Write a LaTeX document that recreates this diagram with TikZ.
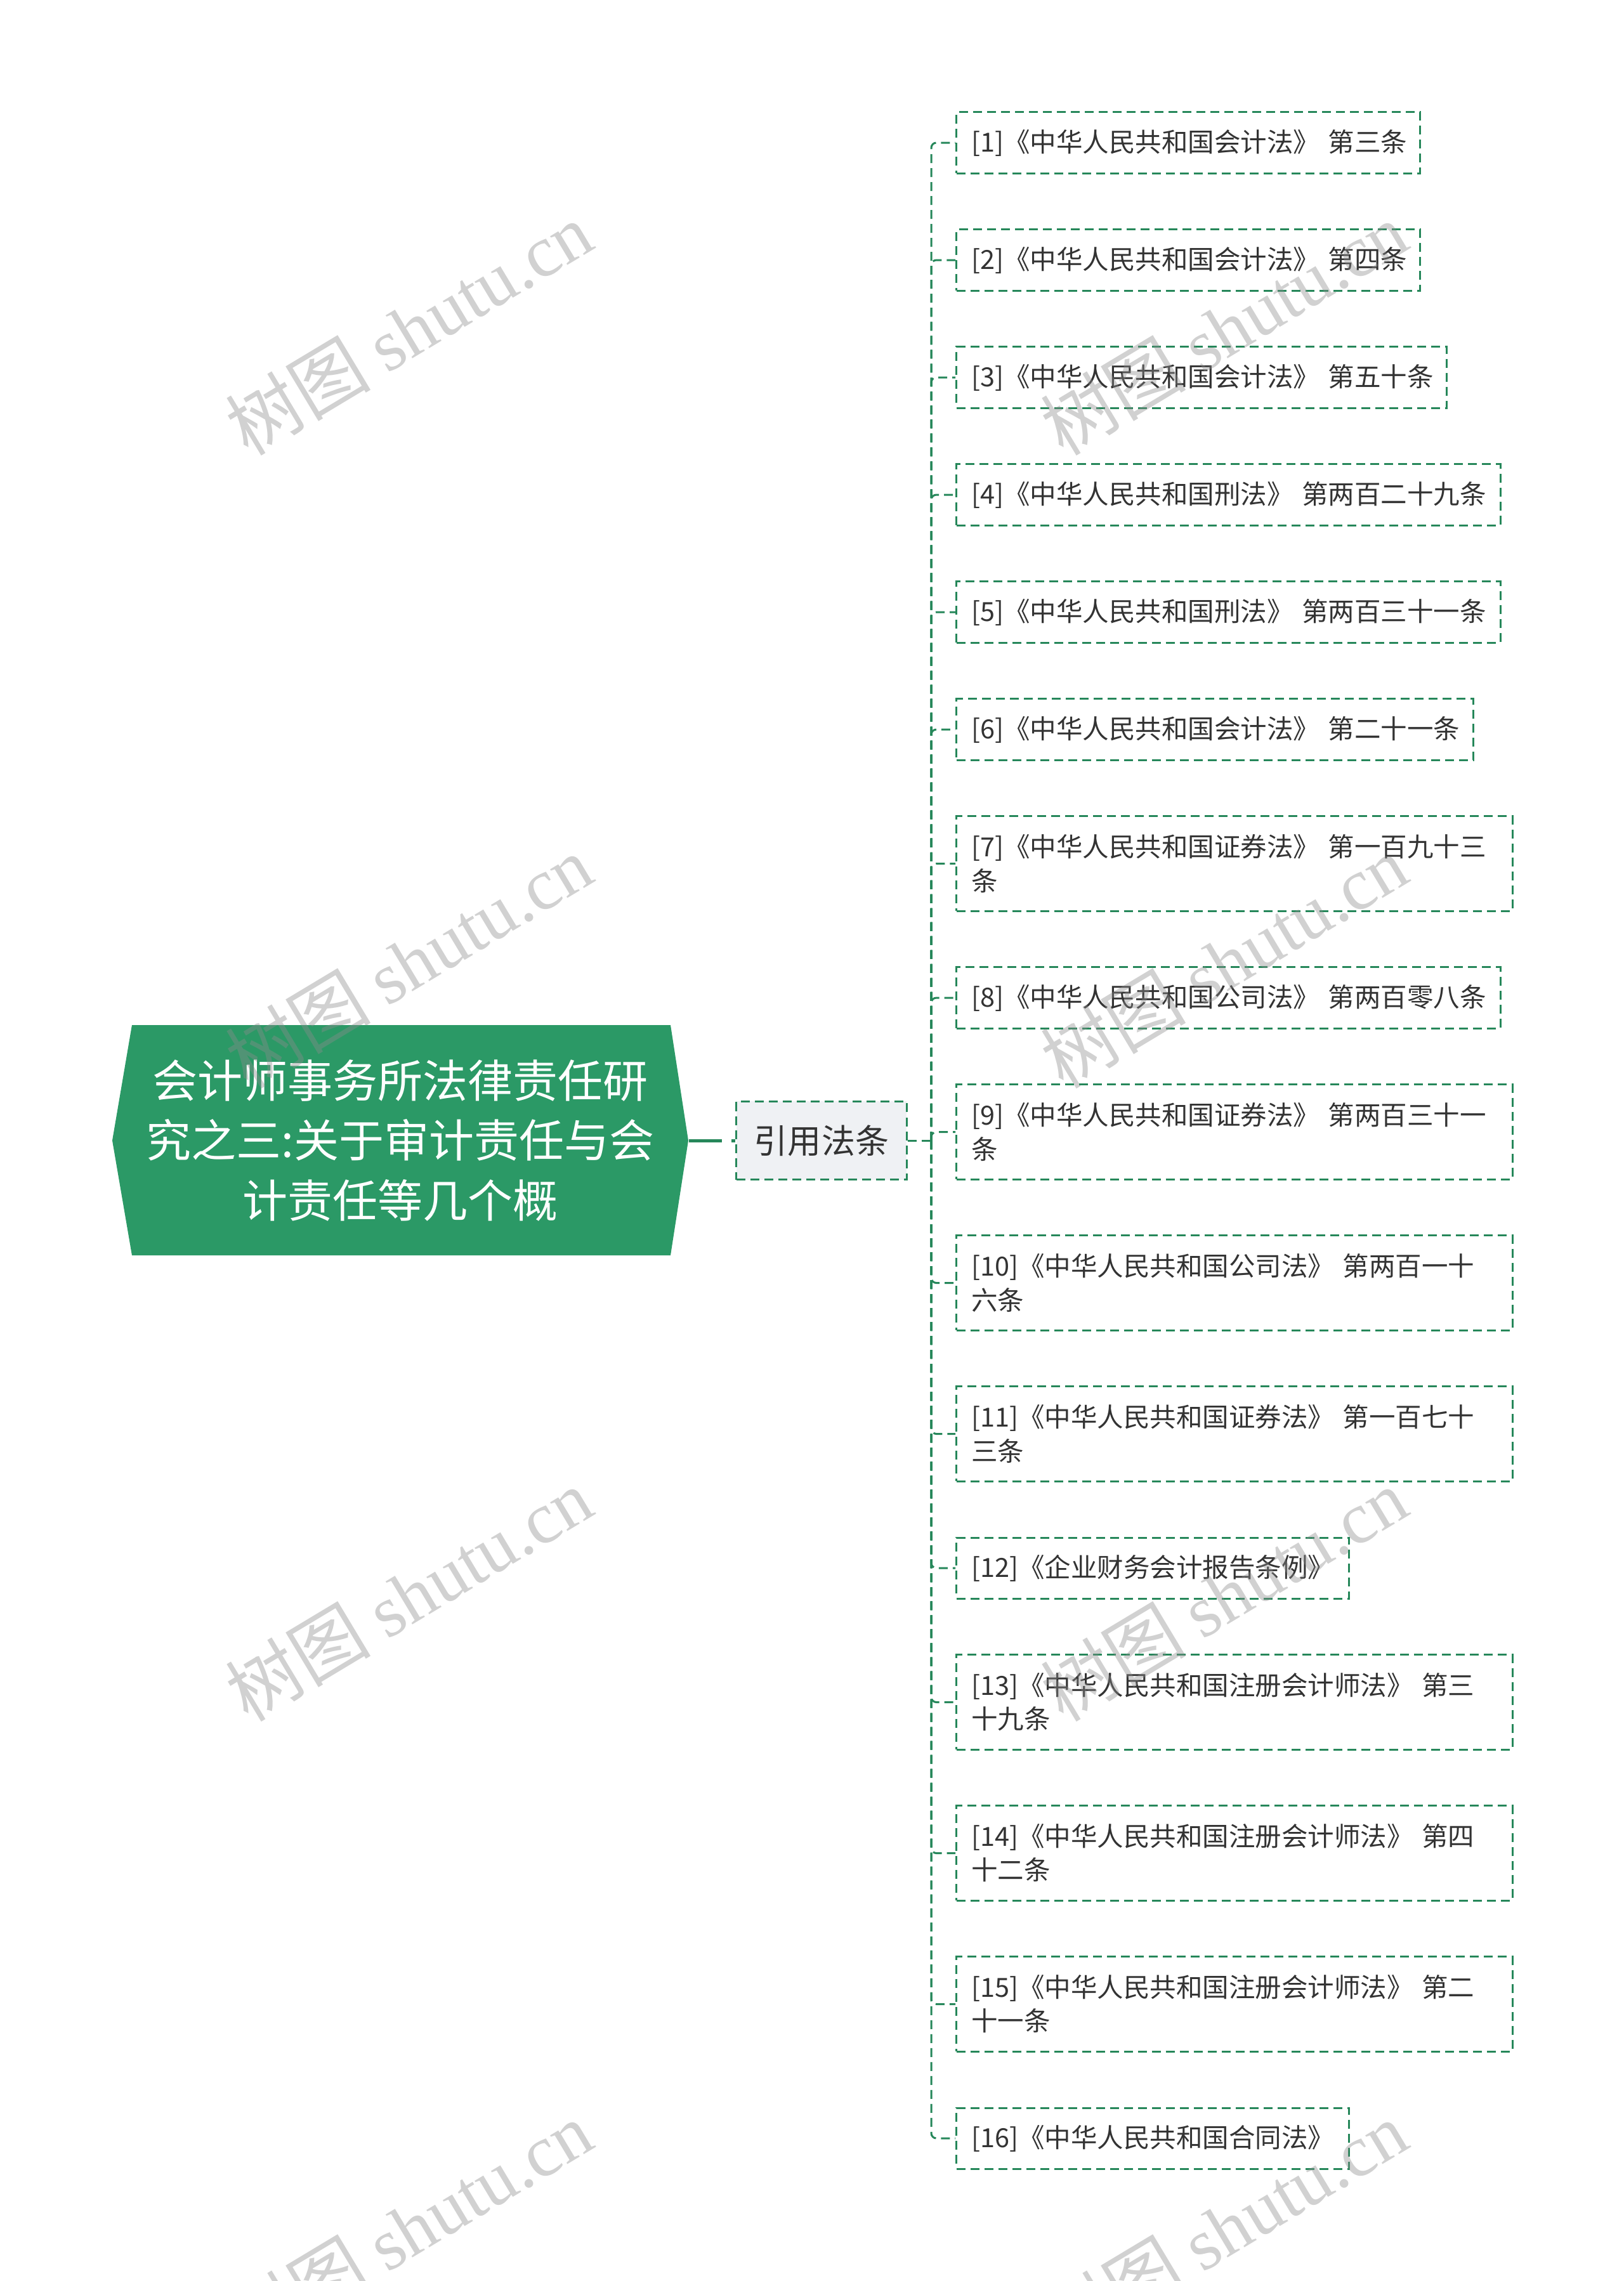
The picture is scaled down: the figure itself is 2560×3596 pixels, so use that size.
\documentclass[tikz,border=0pt]{standalone}
\usepackage{fontspec}
\setmainfont{Noto Sans CJK SC}
\newfontfamily\wmlatin{Liberation Serif}
\definecolor{rootg}{RGB}{43,153,102}
\definecolor{lineg}{RGB}{38,135,90}
\definecolor{midfill}{RGB}{239,241,244}
\definecolor{txt}{RGB}{51,51,51}
\tikzset{
  boxline/.style={draw=lineg, line width=0.03cm, dash pattern=on 0.14cm off 0.08cm},
  leaf/.style={boxline, fill=white, anchor=west, align=left, inner xsep=0.235cm, inner ysep=0pt, text=txt, font=\fontsize{11.8pt}{15.08pt}\selectfont},
  singleh/.style={minimum height=0.96cm},
  doubleh/.style={minimum height=1.49cm},
  conn/.style={draw=lineg, line width=0.03cm, dash pattern=on 0.14cm off 0.08cm, rounded corners=0.08cm},
  rootconn/.style={draw=lineg, line width=0.05cm, dash pattern=on 0.52cm off 0.15cm},
  wm/.style={rotate=31, text=black!45, opacity=0.4, inner sep=0pt, font=\fontsize{32.7pt}{36pt}\selectfont}
}
\begin{document}
\begin{tikzpicture}[x=0.01cm,y=-0.01cm]
\useasboundingbox (0,0) rectangle (2560,3596);
% root
\fill[rootg] (208,1616) -- (1057,1616) -- (1085,1798) -- (1057,1979) -- (208,1979) -- (177,1798) -- cycle;
\node[minimum width=9.08cm, minimum height=3.63cm, inner sep=0pt, text=white, align=center, font=\fontsize{20.2pt}{26.75pt}\selectfont] (root) at (631,1798) {会计师事务所法律责任研\\究之三:关于审计责任与会\\计责任等几个概};
% middle
\node[boxline, fill=midfill, minimum width=2.68cm, minimum height=1.23cm, inner sep=0pt, text=txt, font=\fontsize{15.08pt}{18pt}\selectfont] (mid) at (1295,1798) {引用法条};
\coordinate (hub) at (1468,1798);
% leaves
\node[leaf, singleh, text width=6.84cm] (l1) at (1506,225) {\mbox{[1]《中华人民共和国会计法》 第三条}};
\node[leaf, singleh, text width=6.84cm] (l2) at (1506,410) {\mbox{[2]《中华人民共和国会计法》 第四条}};
\node[leaf, singleh, text width=7.26cm] (l3) at (1506,595) {\mbox{[3]《中华人民共和国会计法》 第五十条}};
\node[leaf, singleh, text width=8.10cm] (l4) at (1506,780) {\mbox{[4]《中华人民共和国刑法》 第两百二十九条}};
\node[leaf, singleh, text width=8.10cm] (l5) at (1506,965) {\mbox{[5]《中华人民共和国刑法》 第两百三十一条}};
\node[leaf, singleh, text width=7.68cm] (l6) at (1506,1150) {\mbox{[6]《中华人民共和国会计法》 第二十一条}};
\node[leaf, doubleh, text width=8.29cm] (l7) at (1506,1361.5) {\mbox{[7]《中华人民共和国证券法》 第一百九十三}\\\mbox{条}};
\node[leaf, singleh, text width=8.10cm] (l8) at (1506,1573) {\mbox{[8]《中华人民共和国公司法》 第两百零八条}};
\node[leaf, doubleh, text width=8.29cm] (l9) at (1506,1784.5) {\mbox{[9]《中华人民共和国证券法》 第两百三十一}\\\mbox{条}};
\node[leaf, doubleh, text width=8.29cm] (l10) at (1506,2022.5) {\mbox{[10]《中华人民共和国公司法》 第两百一十}\\\mbox{六条}};
\node[leaf, doubleh, text width=8.29cm] (l11) at (1506,2260.5) {\mbox{[11]《中华人民共和国证券法》 第一百七十}\\\mbox{三条}};
\node[leaf, singleh, text width=5.72cm] (l12) at (1506,2472) {\mbox{[12]《企业财务会计报告条例》}};
\node[leaf, doubleh, text width=8.29cm] (l13) at (1506,2683.5) {\mbox{[13]《中华人民共和国注册会计师法》 第三}\\\mbox{十九条}};
\node[leaf, doubleh, text width=8.29cm] (l14) at (1506,2921.5) {\mbox{[14]《中华人民共和国注册会计师法》 第四}\\\mbox{十二条}};
\node[leaf, doubleh, text width=8.29cm] (l15) at (1506,3159.5) {\mbox{[15]《中华人民共和国注册会计师法》 第二}\\\mbox{十一条}};
\node[leaf, singleh, text width=5.72cm] (l16) at (1506,3371) {\mbox{[16]《中华人民共和国合同法》}};
% connectors
\draw[rootconn] (root.east) -- (mid.west);
\draw[conn] (mid.east) -- (hub);
\foreach \i in {1,...,16} {\draw[conn] (hub) |- (l\i.west);}
% watermarks
\begin{scope}
\clip (0,0) rectangle (2560,3596);
\foreach \wx in {644,1929} {
  \foreach \wy in {518,1516,2514,3512} {
    \node[wm] at (\wx,\wy) {树图 {\wmlatin shutu.cn}};
  }
}
\end{scope}
\end{tikzpicture}
\end{document}
